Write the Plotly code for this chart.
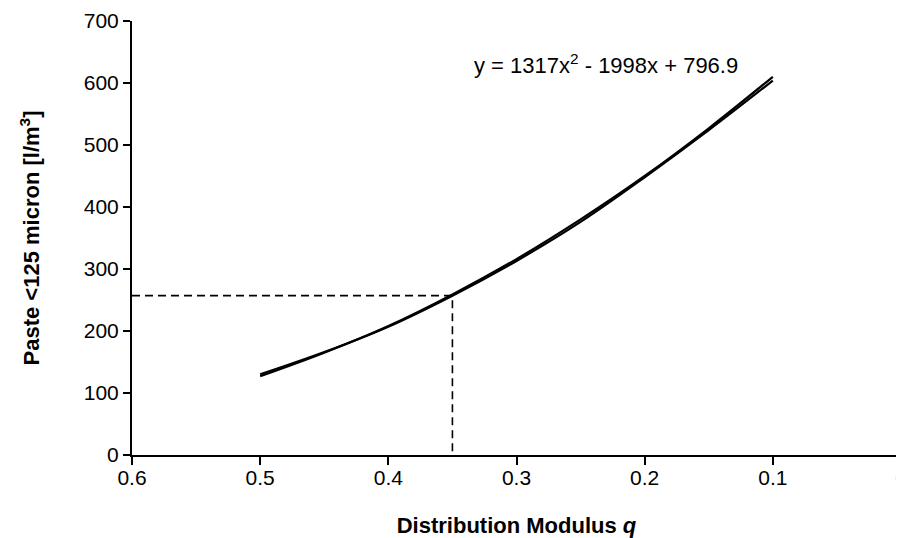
import plotly.graph_objects as go

# Data
q_data = [0.5, 0.45, 0.4, 0.35, 0.3, 0.25, 0.2, 0.15, 0.1]
paste_data = [130, 166, 207, 257, 313, 376, 448, 524, 604]
paste_trend = [127, 165, 208, 259, 316, 380, 450, 527, 610]

q_marker = [0.6, 0.35, 0.35]
paste_marker = [257, 257, 0]

x_ticks = [0.6, 0.5, 0.4, 0.3, 0.2, 0.1, 0]
x_tick_labels = ["0.6", "0.5", "0.4", "0.3", "0.2", "0.1", "0"]
y_ticks = [0, 100, 200, 300, 400, 500, 600, 700]

equation = "y = 1317x<sup>2</sup> - 1998x + 796.9"

FONT = "Liberation Sans, Arial, sans-serif"
FS = 21
FT = 22

fig = go.Figure()
fig.add_trace(go.Scatter(x=q_data, y=paste_data, mode="lines",
                         line=dict(color="black", width=2.2, shape="spline"),
                         showlegend=False, hoverinfo="skip"))
fig.add_trace(go.Scatter(x=q_data, y=paste_trend, mode="lines",
                         line=dict(color="black", width=2.2, shape="spline"),
                         showlegend=False, hoverinfo="skip"))
fig.add_trace(go.Scatter(x=q_marker, y=paste_marker, mode="lines",
                         line=dict(color="black", width=1.6, dash="8px,5px"),
                         showlegend=False, hoverinfo="skip"))

fig.add_annotation(x=0.3347, y=631, xref="x", yref="y", text=equation,
                   showarrow=False, xanchor="left", yanchor="middle",
                   font=dict(family=FONT, size=FT, color="black"))

fig.update_layout(
    width=904, height=538,
    margin=dict(l=124, r=11, t=13, b=91, autoexpand=False),
    paper_bgcolor="white", plot_bgcolor="white",
    font=dict(family=FONT, size=FS, color="black"),
)
fig.update_xaxes(
    range=[0.6, 0], tickvals=x_ticks, ticktext=x_tick_labels,
    showline=True, linecolor="black", linewidth=2,
    ticks="outside", ticklen=8, tickwidth=2, tickcolor="black",
    showgrid=False, zeroline=False, automargin=False,
    ticklabeloverflow="allow", ticklabelstandoff=-5,
    tickfont=dict(family=FONT, size=FS, color="black"),
    title=dict(text="<b>Distribution Modulus <i>q</i></b>", standoff=29,
               font=dict(family=FONT, size=FT, color="black")),
)
fig.update_yaxes(
    range=[0, 700], tickvals=y_ticks,
    showline=True, linecolor="black", linewidth=2,
    ticks="outside", ticklen=7, tickwidth=2, tickcolor="black",
    showgrid=False, zeroline=False, automargin=False,
    tickfont=dict(family=FONT, size=FS, color="black"),
    title=dict(text="<b>Paste <125 micron [l/m<sup>3</sup>]</b>", standoff=38,
               font=dict(family=FONT, size=FT, color="black")),
)

fig.write_html("out.html")
